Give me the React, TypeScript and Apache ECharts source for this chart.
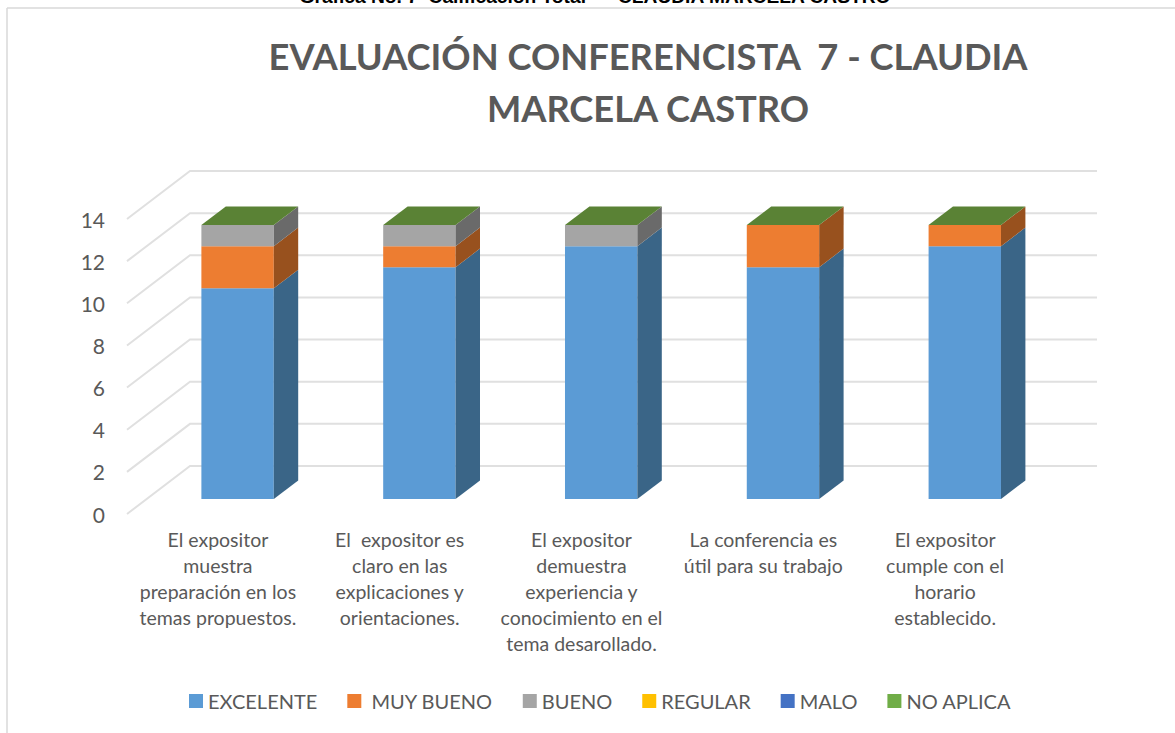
import React, { useEffect, useRef } from "react";
import * as echarts from "echarts";

const caption = "Grafica No. 7  Calificación Total  –  CLAUDIA MARCELA CASTRO";
const title = "EVALUACIÓN CONFERENCISTA  7 - CLAUDIA\nMARCELA CASTRO";
const categories = [
  "El expositor\nmuestra\npreparación en los\ntemas propuestos.",
  "El  expositor es\nclaro en las\nexplicaciones y\norientaciones.",
  "El expositor\ndemuestra\nexperiencia y\nconocimiento en el\ntema desarollado.",
  "La conferencia es\nútil para su trabajo",
  "El expositor\ncumple con el\nhorario\nestablecido.",
];
const yTicks = [0, 2, 4, 6, 8, 10, 12, 14];
const excelente = [10, 11, 12, 11, 12];
const muyBueno = [2, 1, 0, 2, 1];
const bueno = [1, 1, 1, 0, 0];
const regular = [0, 0, 0, 0, 0];
const malo = [0, 0, 0, 0, 0];
const noAplica = [0, 0, 0, 0, 0];

const seriesDefs = [
  { name: "EXCELENTE", values: excelente, color: "#5B9BD5", side: "#3A6587", top: "#5B9BD5" },
  { name: " MUY BUENO", values: muyBueno, color: "#ED7D31", side: "#98511E", top: "#ED7D31" },
  { name: "BUENO", values: bueno, color: "#A5A5A5", side: "#6A6A6A", top: "#A5A5A5" },
  { name: "REGULAR", values: regular, color: "#FFC000", side: "#A67D00", top: "#FFC000" },
  { name: "MALO", values: malo, color: "#4472C4", side: "#2C4A7F", top: "#4472C4" },
  { name: "NO APLICA", values: noAplica, color: "#70AD47", side: "#49702E", top: "#5A8235" },
];

const FONT = "Lato";
const GRID_LINE = "#E0E0E0";
// Oblique projection of the 3D floor: how far one full depth shifts a point, in pixels.
const DEPTH_X = 63;
const DEPTH_Y = -48;
const BAR_Z0 = 0.3125;
const BAR_Z1 = 0.7;
const BAR_RATIO = 72.4 / 181.8;
const GRID_END_TRIM = 2;

const project = (p: number[], z: number) => [p[0] + DEPTH_X * z, p[1] + DEPTH_Y * z];

export default function App() {
  const ref = useRef<HTMLDivElement>(null);
  useEffect(() => {
    const chart = echarts.init(ref.current!, undefined, { renderer: "svg" });

    const gridSeries = {
      type: "custom",
      silent: true,
      z: 1,
      data: yTicks.map((v) => [v]),
      renderItem: (_: any, api: any) => {
        const v = api.value(0);
        const a = api.coord([0, v]);
        const left = a[0] - api.size([1, 0])[0] / 2;
        const right = left + api.size([1, 0])[0] * categories.length;
        const f = [left, a[1]];
        const b = project(f, 1);
        const e = [right + DEPTH_X - GRID_END_TRIM, b[1]];
        return {
          type: "polyline",
          shape: { points: [f, b, e] },
          style: { stroke: GRID_LINE, lineWidth: 2, fill: "none" },
        };
      },
    };

    const totals = categories.map(() => 0);
    const barSeries = seriesDefs.map((def, si) => {
      const isLast = si === seriesDefs.length - 1;
      const data = def.values.map((v, i) => {
        const start = totals[i];
        totals[i] += v;
        return [i, start, start + v];
      });
      return {
        type: "custom",
        name: def.name,
        z: 2 + si,
        itemStyle: { color: def.color },
        encode: { x: 0, y: 2 },
        data,
        renderItem: (_: any, api: any) => {
          const cat = api.value(0);
          const s = api.value(1);
          const e = api.value(2);
          const w = api.size([1, 0])[0] * BAR_RATIO;
          const b = api.coord([cat, s]);
          const t = api.coord([cat, e]);
          const x0 = b[0] - w / 2;
          const x1 = b[0] + w / 2;
          const P = (x: number, y: number, z: number) => project([x, y], z);
          const children: any[] = [];
          if (e > s) {
            children.push({
              type: "polygon",
              shape: { points: [P(x0, b[1], BAR_Z0), P(x1, b[1], BAR_Z0), P(x1, t[1], BAR_Z0), P(x0, t[1], BAR_Z0)] },
              style: { fill: def.color },
            });
            children.push({
              type: "polygon",
              shape: { points: [P(x1, b[1], BAR_Z0), P(x1, b[1], BAR_Z1), P(x1, t[1], BAR_Z1), P(x1, t[1], BAR_Z0)] },
              style: { fill: def.side },
            });
          }
          if (isLast) {
            children.push({
              type: "polygon",
              shape: { points: [P(x0, t[1], BAR_Z0), P(x1, t[1], BAR_Z0), P(x1, t[1], BAR_Z1), P(x0, t[1], BAR_Z1)] },
              style: { fill: def.top },
            });
          }
          return { type: "group", children };
        },
      };
    });

    chart.setOption({
      animation: false,
      textStyle: { fontFamily: FONT },
      title: {
        text: title,
        left: 643,
        top: 25,
        textAlign: "center",
        textStyle: { fontFamily: FONT, fontSize: 36.3, fontWeight: "bold", color: "#595959", lineHeight: 52 },
      },
      grid: { left: 127, top: 219, width: 909, height: 295, containLabel: false },
      xAxis: {
        type: "category",
        data: categories,
        axisLine: { show: false },
        axisTick: { show: false },
        splitLine: { show: false },
        axisLabel: {
          interval: 0,
          color: "#595959",
          fontFamily: FONT,
          fontSize: 19.5,
          lineHeight: 26,
          margin: 12,
          verticalAlign: "top",
        },
      },
      yAxis: {
        type: "value",
        min: 0,
        max: 14,
        interval: 2,
        axisLine: { show: false },
        axisTick: { show: false },
        splitLine: { show: false },
        axisLabel: { color: "#595959", fontFamily: FONT, fontSize: 21, margin: 22 },
      },
      legend: {
        data: seriesDefs.map((d) => d.name),
        left: 184,
        top: 686,
        icon: "rect",
        itemWidth: 14,
        itemHeight: 14,
        itemGap: 30,
        textStyle: { color: "#595959", fontFamily: FONT, fontSize: 20 },
      },
      graphic: [
        { type: "line", silent: true, shape: { x1: 7, y1: 8, x2: 1175, y2: 8 }, style: { stroke: "#D9D9D9", lineWidth: 1.5 } },
        { type: "line", silent: true, shape: { x1: 7, y1: 8, x2: 7, y2: 733 }, style: { stroke: "#D9D9D9", lineWidth: 1.5 } },
        {
          type: "text",
          x: 595,
          y: -4,
          style: { text: caption, fill: "#000000", font: "bold 19.2px 'Liberation Sans'", textAlign: "center", textVerticalAlign: "middle" },
        },
      ],
      series: [gridSeries, ...barSeries],
    });
    return () => chart.dispose();
  }, []);
  return <div ref={ref} style={{ position: "fixed", left: 0, top: 0, width: 1175, height: 733, background: "#fff" }} />;
}
